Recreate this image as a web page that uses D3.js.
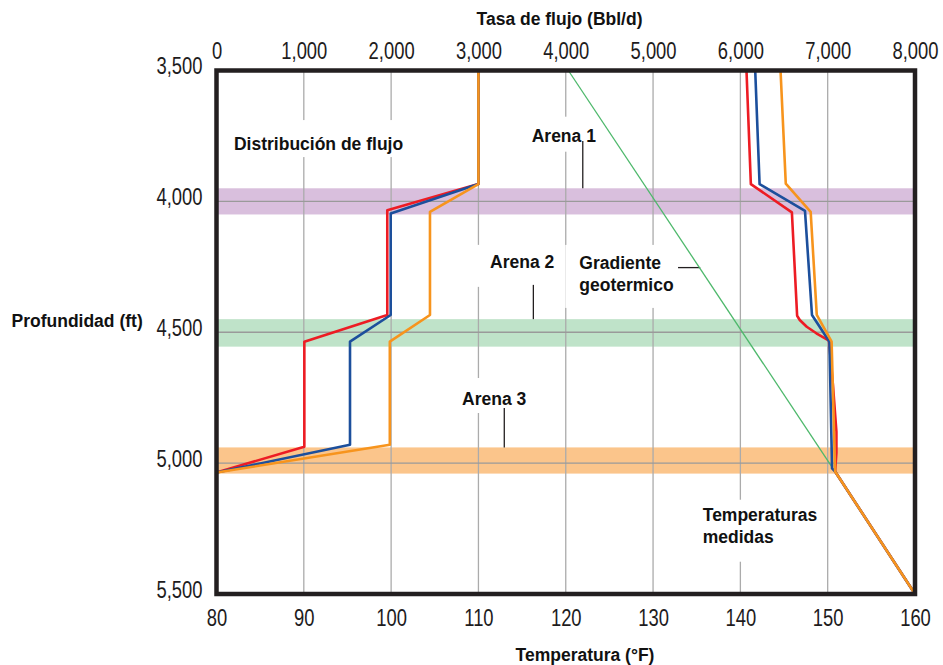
<!DOCTYPE html>
<html>
<head>
<meta charset="utf-8">
<script src="https://cdn.jsdelivr.net/npm/d3@7"></script>
<style>
  body { margin: 0; background: #fff; }
  svg { display: block; }
</style>
</head>
<body>
<svg id="chart" width="943" height="665"></svg>
<script>
// ---- Axis ticks ----
const depthTicks = [3500, 4000, 4500, 5000, 5500];
const flowTicks = [0, 1000, 2000, 3000, 4000, 5000, 6000, 7000, 8000];
const tempTicks = [80, 90, 100, 110, 120, 130, 140, 150, 160];
const depthGrid = [4000, 4500, 5000];

// ---- Producing sands (depth intervals, ft) ----
const zoneNames = ["Arena 1", "Arena 2", "Arena 3"];
const zoneTop = [3950, 4450, 4940];
const zoneBottom = [4050, 4555, 5040];

// ---- Flow distribution (Bbl/d vs depth) ----
const flowRedDepth = [3500, 3934, 4034, 4434, 4536, 4937, 5036];
const flowRed = [3000, 3000, 1956, 1956, 1006, 1006, 0];
const flowBlueDepth = [3500, 3934, 4046, 4434, 4536, 4930, 5036];
const flowBlue = [3000, 3000, 1995, 1995, 1529, 1529, 0];
const flowOrangeDepth = [3500, 3934, 4040, 4434, 4536, 4930, 5036];
const flowOrange = [3000, 3000, 2445, 2445, 1985, 1985, 0];

// ---- Measured temperatures (°F vs depth) ----
const tempRedDepth = [3500, 3934, 4042, 4437, 4453, 4479, 4504, 4532, 4700, 4880, 4960, 5032, 5500];
const tempRed = [140.7, 141.2, 145.9, 146.5, 146.8, 147.6, 148.7, 150.15, 150.6, 151.0, 151.0, 150.85, 160];
const tempBlueDepth = [3500, 3934, 4036, 4434, 4536, 5020, 5032, 5500];
const tempBlue = [141.7, 142.2, 147.4, 148.2, 150.2, 150.5, 150.85, 160];
const tempOrangeDepth = [3500, 3932, 4040, 4434, 4536, 5032, 5500];
const tempOrange = [144.6, 145.2, 148.05, 148.75, 150.45, 150.85, 160];

// ---- Geothermal gradient ----
const gradDepth = [3500, 5013];
const gradTemp = [120.3, 150.46];

// ---- Layout ----
const svg = d3.select("#chart");
const L = 216.5, R = 915, T = 70.5, B = 594;

const x = d3.scaleLinear().domain([0, 8000]).range([L, R]);     // flow
const t = d3.scaleLinear().domain([80, 160]).range([L, R]);     // temperature
const y = d3.scaleLinear().domain([3500, 5500]).range([T, B]);  // depth

const INK = "#231f20";
const zoneColors = ["#d9bfdd", "#bfe3c9", "#fbc58b"];

// Sand bands
svg.append("g").selectAll("rect").data(zoneNames).join("rect")
  .attr("x", L).attr("width", R - L)
  .attr("y", (d, i) => y(zoneTop[i]))
  .attr("height", (d, i) => y(zoneBottom[i]) - y(zoneTop[i]))
  .attr("fill", (d, i) => zoneColors[i]);

// Grid
const grid = svg.append("g");
grid.selectAll("line.v").data(flowTicks.slice(1, -1)).join("line")
  .attr("class", "v")
  .attr("x1", d => x(d)).attr("x2", d => x(d))
  .attr("y1", T).attr("y2", B)
  .attr("stroke", "#ababab").attr("stroke-width", 1.3);
grid.selectAll("line.h").data(depthGrid).join("line")
  .attr("class", "h")
  .attr("x1", L).attr("x2", R)
  .attr("y1", d => y(d)).attr("y2", d => y(d))
  .attr("stroke", "#9a9a9a").attr("stroke-width", 1.4);

// Annotations (white boxes break the grid behind the text)
const notes = [
  { lines: ["Distribución de flujo"], f: 200, d: 3804, pad: [14, 3, 6, 6] },
  { lines: ["Arena 1"], f: 3610, d: 3772, pad: [9, 6, 8, 8] },
  { lines: ["Arena 2"], f: 3133, d: 4254, pad: [7, 15, 14, 6] },
  { lines: ["Gradiente", "geotermico"], f: 4155, d: 4258, pad: [8, 13, 14, 6] },
  { lines: ["Arena 3"], f: 2812, d: 4778, pad: [11, 4, 6, 6] },
  { lines: ["Temperaturas", "medidas"], f: 5569, d: 5220, pad: [5, 15, 6, 6] }
];
const noteLayer = svg.append("g");
notes.forEach(n => {
  const g = noteLayer.append("g");
  const bg = g.append("rect").attr("fill", "#fff");
  const txt = g.append("g");
  n.lines.forEach((s, k) => {
    txt.append("text")
      .attr("x", x(n.f)).attr("y", y(n.d) + k * 22)
      .attr("font-family", "'Liberation Sans', Arial, sans-serif")
      .attr("font-weight", "bold").attr("font-size", 17.5)
      .attr("fill", "#111").text(s);
  });
  const bb = txt.node().getBBox();
  bg.attr("x", bb.x - n.pad[2]).attr("y", bb.y - n.pad[0])
    .attr("width", bb.width + n.pad[2] + n.pad[3])
    .attr("height", bb.height + n.pad[0] + n.pad[1]);
});

// Leader lines from labels to sands
const leaders = svg.append("g").attr("stroke", INK).attr("stroke-width", 1.3);
const leaderFlow = [4195, 3629, 3296];
const leaderFrom = [3769, 4319, 4789];
zoneNames.forEach((z, i) => {
  leaders.append("line")
    .attr("x1", x(leaderFlow[i])).attr("x2", x(leaderFlow[i]))
    .attr("y1", y(leaderFrom[i])).attr("y2", y(zoneTop[i]));
});
leaders.append("line")
  .attr("x1", x(5286)).attr("x2", x(5540))
  .attr("y1", y(4253)).attr("y2", y(4253));

// Geothermal gradient
svg.append("path")
  .datum(gradDepth.map((d, i) => [gradTemp[i], d]))
  .attr("fill", "none").attr("stroke", "#4db86b").attr("stroke-width", 1.3)
  .attr("d", d3.line().x(p => t(p[0])).y(p => y(p[1])));

// Curves: red, blue, orange (orange on top)
const flowLine = d3.line().x(p => x(p[0])).y(p => y(p[1]));
const tempLine = d3.line().x(p => t(p[0])).y(p => y(p[1]));
const series = [
  { color: "#ed1c24", flow: flowRed, fd: flowRedDepth, temp: tempRed, td: tempRedDepth },
  { color: "#1c4f9c", flow: flowBlue, fd: flowBlueDepth, temp: tempBlue, td: tempBlueDepth },
  { color: "#f7941d", flow: flowOrange, fd: flowOrangeDepth, temp: tempOrange, td: tempOrangeDepth }
];
const curves = svg.append("g").attr("fill", "none").attr("stroke-width", 2.6)
  .attr("stroke-linejoin", "round");
series.forEach(s => {
  curves.append("path").datum(s.flow.map((v, i) => [v, s.fd[i]]))
    .attr("stroke", s.color).attr("d", flowLine);
  curves.append("path").datum(s.temp.map((v, i) => [v, s.td[i]]))
    .attr("stroke", s.color).attr("d", tempLine);
});

// Axes (condensed numerals)
const SX = 0.8;
function styleTicks(g, tx, ty, anchor) {
  g.select(".domain").remove();
  g.selectAll(".tick line").remove();
  g.selectAll(".tick text")
    .attr("font-family", "'Liberation Sans', Arial, sans-serif")
    .attr("font-size", 23).attr("fill", "#1e1c1d")
    .attr("text-anchor", anchor)
    .attr("dy", null)
    .attr("x", tx / SX).attr("y", ty)
    .attr("transform", `scale(${SX},1)`);
}
svg.append("g").attr("transform", `translate(0,${T})`)
  .call(d3.axisTop(x).tickValues(flowTicks).tickFormat(d3.format(",")).tickSize(0))
  .call(g => styleTicks(g, 0, -12, "middle"));
svg.append("g").attr("transform", `translate(0,${B})`)
  .call(d3.axisBottom(t).tickValues(tempTicks).tickFormat(d3.format("d")).tickSize(0))
  .call(g => styleTicks(g, 0, 32, "middle"));
svg.append("g").attr("transform", `translate(${L},0)`)
  .call(d3.axisLeft(y).tickValues(depthTicks).tickFormat(d3.format(",")).tickSize(0))
  .call(g => styleTicks(g, -14, 3, "end"));

// Axis titles
function title(txt, px, py, anchor) {
  svg.append("text").attr("x", px).attr("y", py)
    .attr("font-family", "'Liberation Sans', Arial, sans-serif").attr("font-size", 17.5)
    .attr("font-weight", "bold").attr("fill", "#111")
    .attr("text-anchor", anchor).text(txt);
}
title("Tasa de flujo (Bbl/d)", 559.5, 25, "middle");
title("Temperatura (°F)", 585, 661, "middle");
title("Profundidad (ft)", 11.5, 327, "start");

// Frame
svg.append("rect")
  .attr("x", L).attr("y", T).attr("width", R - L).attr("height", B - T)
  .attr("fill", "none").attr("stroke", INK).attr("stroke-width", 4.5);
</script>
</body>
</html>
